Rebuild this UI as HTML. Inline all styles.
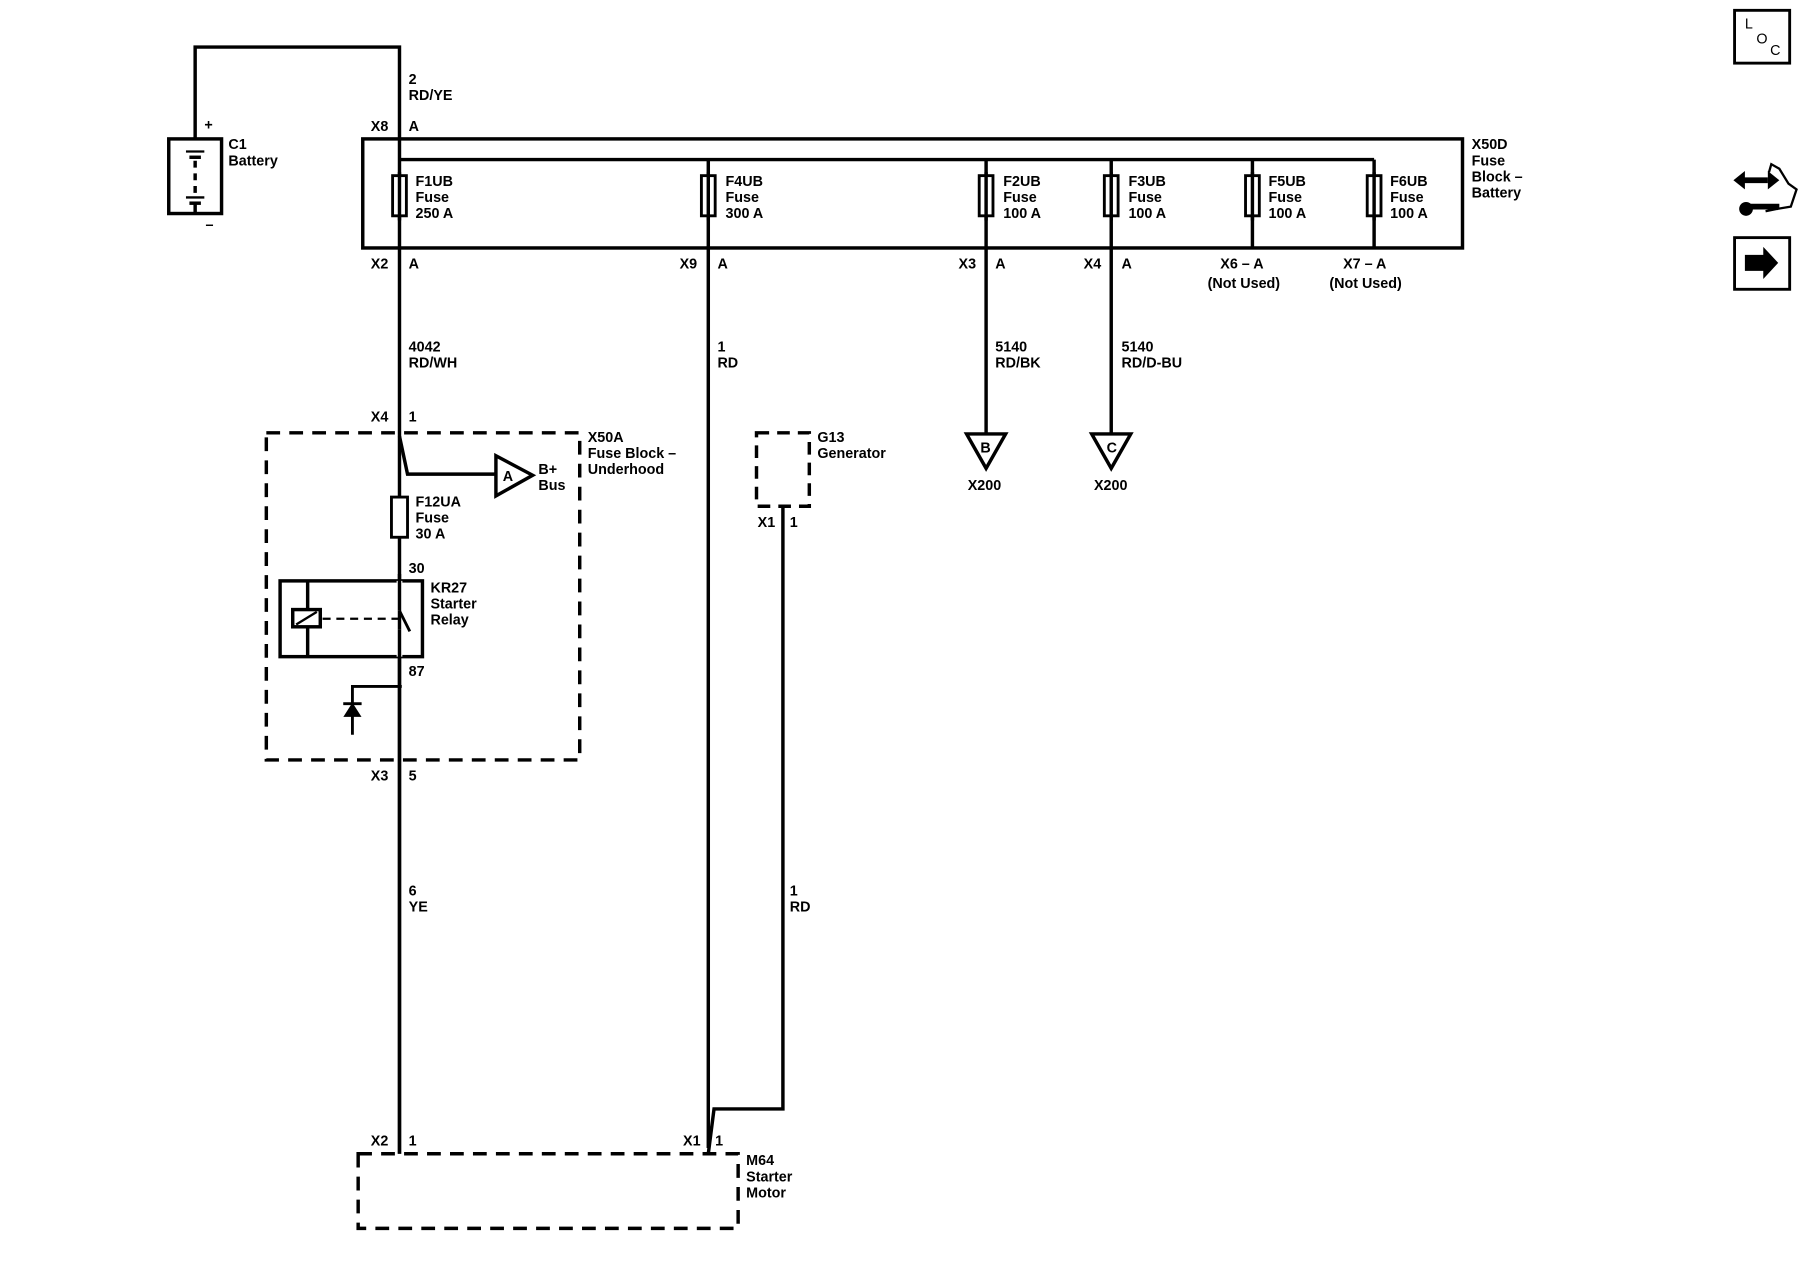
<!DOCTYPE html>
<html><head><style>html,body{margin:0;padding:0;background:#fff}svg{display:block}text{font-family:"Liberation Sans",Arial,sans-serif;font-size:12.5px;font-weight:bold;fill:#000}</style></head>
<body>
<svg width="1800" height="1280" viewBox="0 0 1568 1115" preserveAspectRatio="none" xmlns="http://www.w3.org/2000/svg">
<rect width="1568" height="1115" fill="#fff"/>
<g stroke="#000" fill="none" stroke-width="3">
<!-- battery -->
<polyline points="170,121 170,41 348,41 348,1005"/>
<rect x="147" y="121" width="46" height="65"/>
<line x1="162" y1="132" x2="178" y2="132" stroke-width="2"/>
<line x1="165" y1="137" x2="175" y2="137"/>
<line x1="170" y1="140" x2="170" y2="168" stroke-dasharray="6,5"/>
<line x1="162" y1="172" x2="178" y2="172" stroke-width="2"/>
<line x1="165" y1="177" x2="175" y2="177"/>
<line x1="170" y1="177" x2="170" y2="186"/>
<!-- X50D box -->
<rect x="316" y="121" width="958" height="95"/>
<line x1="348" y1="139" x2="1197" y2="139"/>
<line x1="617" y1="139" x2="617" y2="1000"/>
<line x1="859" y1="139" x2="859" y2="378"/>
<line x1="968" y1="139" x2="968" y2="378"/>
<line x1="1091" y1="139" x2="1091" y2="216"/>
<line x1="1197" y1="139" x2="1197" y2="216"/>
<g stroke-width="2.5" fill="#fff">
<rect x="342" y="153" width="12" height="35"/>
<rect x="611" y="153" width="12" height="35"/>
<rect x="853" y="153" width="12" height="35"/>
<rect x="962" y="153" width="12" height="35"/>
<rect x="1085" y="153" width="12" height="35"/>
<rect x="1191" y="153" width="12" height="35"/>
</g>
<line x1="348" y1="150" x2="348" y2="192"/><line x1="617" y1="150" x2="617" y2="192"/><line x1="859" y1="150" x2="859" y2="192"/><line x1="968" y1="150" x2="968" y2="192"/><line x1="1091" y1="150" x2="1091" y2="192"/><line x1="1197" y1="150" x2="1197" y2="192"/>
<polygon points="842,378 876,378 859,408" fill="#fff"/>
<polygon points="951,378 985,378 968,408" fill="#fff"/>
<!-- X50A -->
<rect x="232" y="377" width="273" height="285" stroke-dasharray="12,8"/>
<polyline points="348,380 355,413 432,413"/>
<polygon points="432,397 464,414 432,432" fill="#fff"/>
<rect x="341" y="433" width="14" height="35" fill="#fff" stroke-width="2.5"/>
<rect x="244" y="506" width="124" height="66"/>
<line x1="268" y1="506" x2="268" y2="572"/>
<line x1="348" y1="506" x2="348" y2="532" stroke="#fff" stroke-width="5"/>
<line x1="348" y1="548" x2="348" y2="572" stroke="#fff" stroke-width="5"/>
<line x1="348" y1="500" x2="348" y2="532"/>
<line x1="348" y1="532" x2="357" y2="550" stroke-width="2.5"/>
<line x1="348" y1="548" x2="348" y2="1005"/>
<rect x="255" y="531" width="24" height="15" fill="#fff"/>
<line x1="258" y1="544" x2="276" y2="533" stroke-width="2"/>
<line x1="281" y1="539" x2="348" y2="539" stroke-width="2" stroke-dasharray="7,5"/>
<polyline points="350,598 307,598 307,640" stroke-width="2.5"/>
<polygon points="300,624 314,624 307,613" fill="#000" stroke-width="1"/>
<line x1="299" y1="613" x2="315" y2="613" stroke-width="2.5"/>
<!-- G13 -->
<rect x="659" y="377" width="46" height="64" stroke-dasharray="11,7"/>
<polyline points="682,441 682,966 622,966 617,1005"/>
<!-- M64 -->
<rect x="312" y="1005" width="331" height="65" stroke-dasharray="12,8"/>
<!-- icons -->
<rect x="1511" y="9" width="48" height="46" stroke-width="2.5"/>
<rect x="1511" y="207" width="48" height="45" stroke-width="2.5"/>
<polyline points="1541,150 1543,143 1550,147 1558,160 1565,165 1560,180 1548,182 1538,184" stroke-width="2"/>
<line x1="1518" y1="157" x2="1540" y2="157" stroke-width="5"/>
<line x1="1525" y1="180" x2="1550" y2="180" stroke-width="5"/>
</g>
<polygon points="1510,157 1520,149 1520,165" fill="#000"/>
<polygon points="1550,157 1540,149 1540,165" fill="#000"/>
<circle cx="1521" cy="182" r="6" fill="#000"/>
<polygon points="1520,222 1536,222 1536,215 1549,229 1536,243 1536,236 1520,236" fill="#000"/>
<text x="1520" y="25" style="font-weight:normal">L</text><text x="1530" y="38" style="font-weight:normal">O</text><text x="1542" y="48" style="font-weight:normal">C</text>
<!-- labels -->
<text x="178" y="113">+</text><text x="179" y="200">–</text>
<text x="199" y="130">C1</text><text x="199" y="144">Battery</text>
<text x="356" y="73">2</text><text x="356" y="87">RD/YE</text>
<text x="323" y="114">X8</text><text x="356" y="114">A</text>
<text x="1282" y="130">X50D</text><text x="1282" y="144">Fuse</text><text x="1282" y="158">Block –</text><text x="1282" y="172">Battery</text>
<text x="362" y="162">F1UB</text><text x="362" y="176">Fuse</text><text x="362" y="190">250 A</text>
<text x="632" y="162">F4UB</text><text x="632" y="176">Fuse</text><text x="632" y="190">300 A</text>
<text x="874" y="162">F2UB</text><text x="874" y="176">Fuse</text><text x="874" y="190">100 A</text>
<text x="983" y="162">F3UB</text><text x="983" y="176">Fuse</text><text x="983" y="190">100 A</text>
<text x="1105" y="162">F5UB</text><text x="1105" y="176">Fuse</text><text x="1105" y="190">100 A</text>
<text x="1211" y="162">F6UB</text><text x="1211" y="176">Fuse</text><text x="1211" y="190">100 A</text>
<text x="323" y="234">X2</text><text x="356" y="234">A</text>
<text x="592" y="234">X9</text><text x="625" y="234">A</text>
<text x="835" y="234">X3</text><text x="867" y="234">A</text>
<text x="944" y="234">X4</text><text x="977" y="234">A</text>
<text x="1063" y="234">X6 – A</text><text x="1052" y="251">(Not Used)</text>
<text x="1170" y="234">X7 – A</text><text x="1158" y="251">(Not Used)</text>
<text x="356" y="306">4042</text><text x="356" y="320">RD/WH</text>
<text x="625" y="306">1</text><text x="625" y="320">RD</text>
<text x="867" y="306">5140</text><text x="867" y="320">RD/BK</text>
<text x="977" y="306">5140</text><text x="977" y="320">RD/D-BU</text>
<text x="854" y="394">B</text><text x="964" y="394">C</text>
<text x="843" y="427">X200</text><text x="953" y="427">X200</text>
<text x="323" y="367">X4</text><text x="356" y="367">1</text>
<text x="512" y="385">X50A</text><text x="512" y="399">Fuse Block –</text><text x="512" y="413">Underhood</text>
<text x="438" y="419">A</text><text x="469" y="413">B+</text><text x="469" y="427">Bus</text>
<text x="362" y="441">F12UA</text><text x="362" y="455">Fuse</text><text x="362" y="469">30 A</text>
<text x="356" y="499">30</text>
<text x="375" y="516">KR27</text><text x="375" y="530">Starter</text><text x="375" y="544">Relay</text>
<text x="356" y="589">87</text>
<text x="323" y="680">X3</text><text x="356" y="680">5</text>
<text x="712" y="385">G13</text><text x="712" y="399">Generator</text>
<text x="660" y="459">X1</text><text x="688" y="459">1</text>
<text x="356" y="780">6</text><text x="356" y="794">YE</text>
<text x="688" y="780">1</text><text x="688" y="794">RD</text>
<text x="323" y="998">X2</text><text x="356" y="998">1</text>
<text x="595" y="998">X1</text><text x="623" y="998">1</text>
<text x="650" y="1015">M64</text><text x="650" y="1029">Starter</text><text x="650" y="1043">Motor</text>
</svg>
</body></html>
